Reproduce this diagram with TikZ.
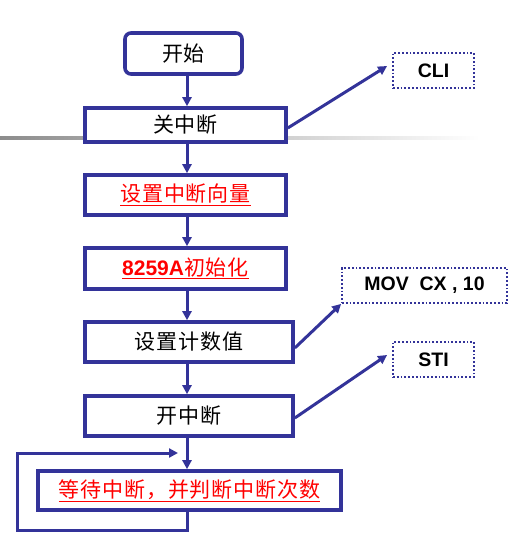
\documentclass[tikz,border=0pt]{standalone}
\usepackage{fontspec}
\setmainfont{Liberation Sans}
\newfontfamily\cjk[LetterSpace=4]{Noto Sans CJK SC}
\usetikzlibrary{arrows.meta}
\definecolor{fblue}{RGB}{51,51,153}
\definecolor{fred}{RGB}{255,0,0}
\tikzset{
  x=1pt, y=-1pt,
  box/.style={draw=fblue, line width=3.6pt, fill=white, inner sep=0pt, font=\fontsize{21}{22}\selectfont\cjk},
  codebox/.style={draw=fblue, line width=1.8pt, dotted, fill=white, inner sep=0pt, font=\fontsize{19.5}{22}\selectfont\bfseries},
  arr/.style={draw=fblue, line width=3pt, -{Triangle[length=9pt,width=9pt]}},
  redtxt/.style={text=fred}
}
\begin{document}
\begin{tikzpicture}
\useasboundingbox (0,0) rectangle (514,541);
\shade[left color=black!45, right color=white] (0,136.5) rectangle (480,139.5);
\coordinate (spine) at (187,0);
\node[box, rounded corners=6pt, minimum width=117pt, minimum height=41pt] (start) at (183.5,53.5) {开始};
\node[box, minimum width=201pt, minimum height=34pt] (guan) at (185.5,125) {关中断};
\node[codebox, minimum width=81pt, minimum height=35pt] (cli) at (433.5,70.5) {CLI};
\node[box, minimum width=201pt, minimum height=40pt] (vec) at (185.5,195) {\color{fred}\underline{设置中断向量}};
\node[box, minimum width=201pt, minimum height=41pt] (init) at (185.5,268.5) {\color{fred}\underline{{\fontsize{21}{22}\selectfont\rmfamily\bfseries 8259A}初始化}};
\node[box, minimum width=208pt, minimum height=40pt] (cnt) at (189,342) {设置计数值};
\node[codebox, minimum width=165pt, minimum height=35pt] (mov) at (424.5,285.5) {MOV\ \ CX , 10};
\node[box, minimum width=208pt, minimum height=40pt] (kai) at (189,416) {开中断};
\node[codebox, minimum width=81pt, minimum height=35pt] (sti) at (433.5,359.5) {STI};
\node[box, minimum width=303pt, minimum height=39pt] (wait) at (189.5,490.5) {\color{fred}\underline{等待中断，并判断中断次数}};
% vertical flow
\draw[arr] (start.south -| spine) -- (guan.north -| spine);
\draw[arr] (guan.south -| spine) -- (vec.north -| spine);
\draw[arr] (vec.south -| spine) -- (init.north -| spine);
\draw[arr] (init.south -| spine) -- (cnt.north -| spine);
\draw[arr] (cnt.south -| spine) -- (kai.north -| spine);
\draw[arr] (kai.south -| spine) -- (wait.north -| spine);
% side arrows
\draw[arr] ([yshift=-3pt]guan.east) -- ([xshift=-5pt,yshift=4.5pt]cli.west);
\draw[arr] ([yshift=-6pt]cnt.east) -- ([yshift=0pt]mov.south west);
\draw[arr] ([yshift=-2pt]kai.east) -- ([xshift=-5pt,yshift=4.5pt]sti.west);
% loop
\coordinate (lb) at (17,530);
\coordinate (lt) at (17,453);
\coordinate (le) at (178,453);
\draw[draw=fblue, line width=3pt, -{Triangle[length=9pt,width=9pt]}] (wait.south -| spine) |- (lb) -- (lt) -- (le);
\end{tikzpicture}
\end{document}
